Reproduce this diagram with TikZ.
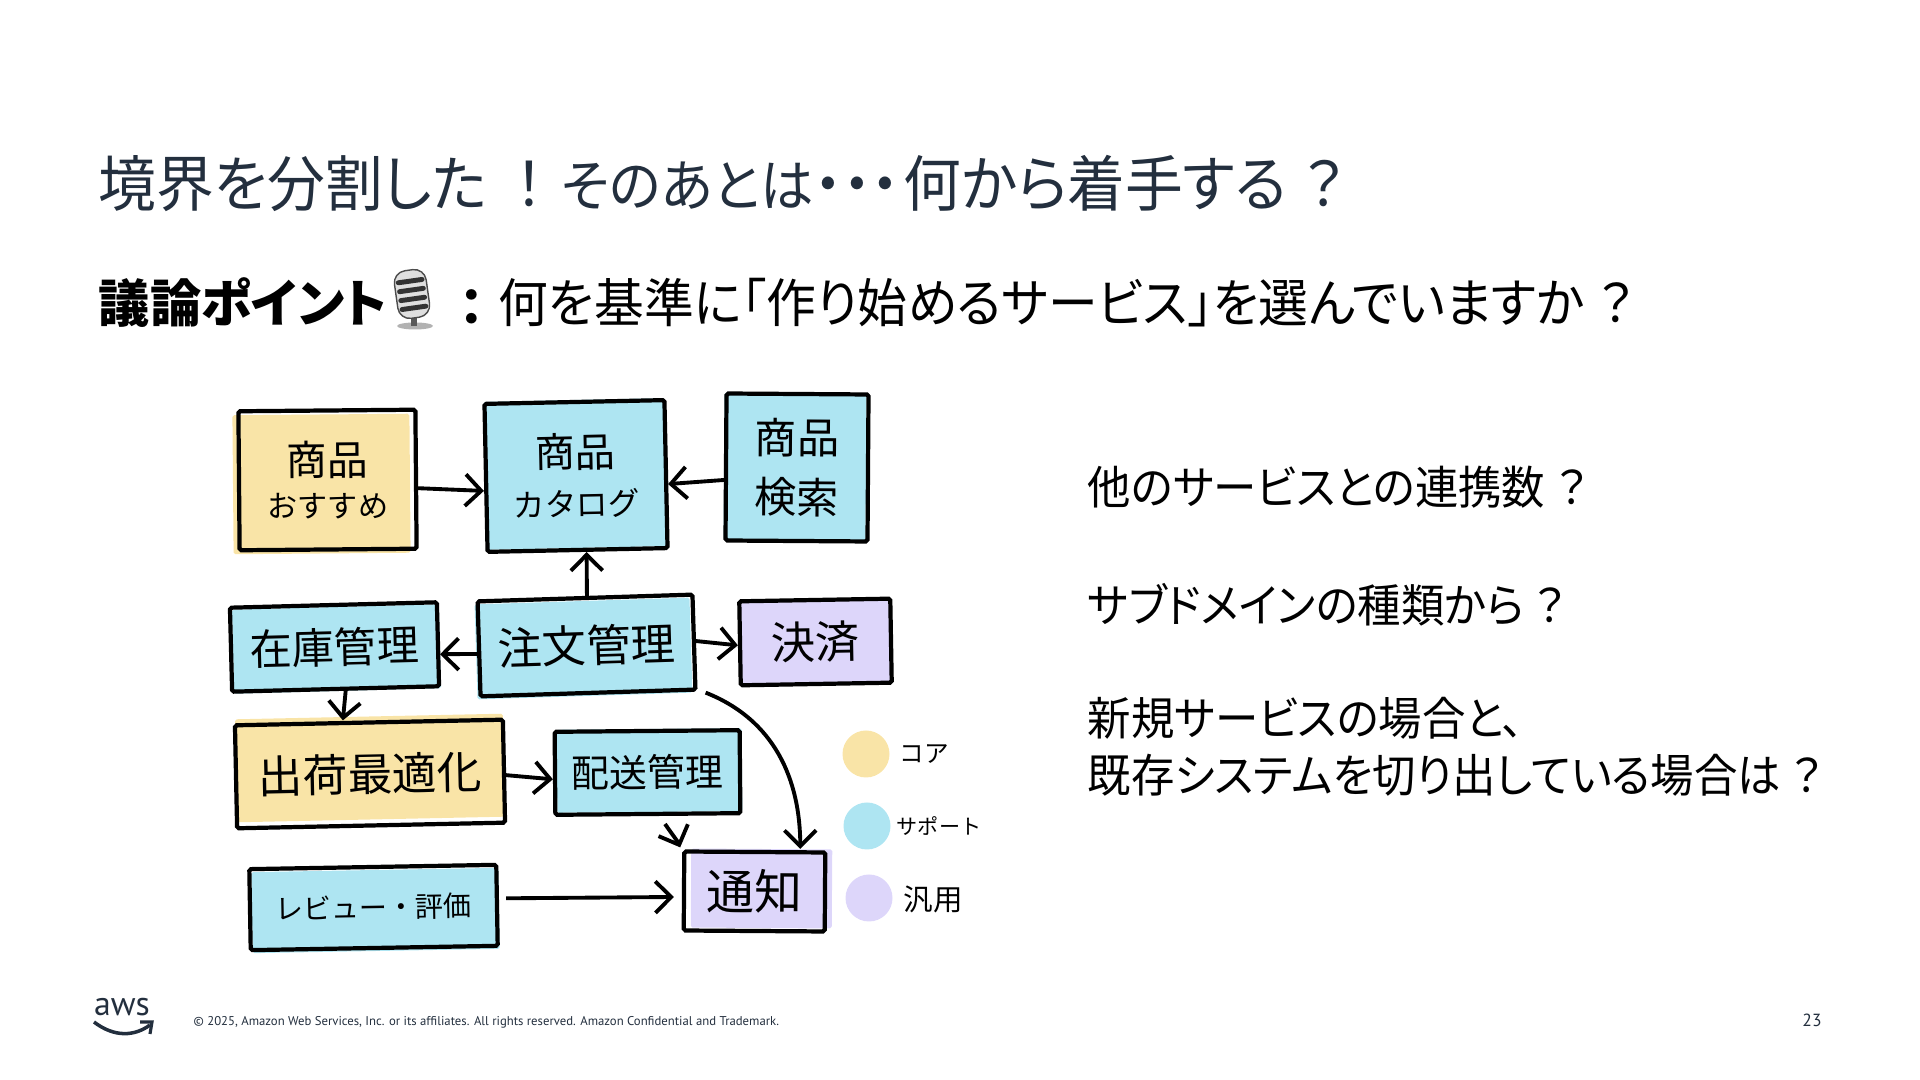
\documentclass[tikz,border=0pt]{standalone}
\usepackage{fontspec}
\usepackage{xcolor}
\usetikzlibrary{arrows.meta}
\setmainfont{Noto Sans CJK JP}
\newfontfamily\headfont[FakeStretch=0.95,RawFeature={+palt}]{Noto Sans CJK JP}
\newfontfamily\pointfont[RawFeature={+palt}]{Noto Sans CJK JP}
\newfontfamily\footfont{PT Sans}
\newcommand{\handsize}[1]{\fontsize{#1}{\fpeval{#1*1.3}}\selectfont}
\definecolor{coreyellow}{RGB}{249,228,167}
\definecolor{supportblue}{RGB}{174,229,242}
\definecolor{genericpurple}{RGB}{221,214,250}
\definecolor{slateink}{RGB}{35,47,62}

\begin{document}
\begin{tikzpicture}[
    handbox/.style={rectangle, draw=black, line width=1.2pt, align=center, inner sep=0pt, rounded corners=0.5pt},
    wash/.style n args={3}{preaction={fill=#1, transform canvas={shift={(#2,#3)}}}},
    arrow/.style={->, >={Straight Barb[length=4.5pt,width=9pt]}, line width=1.1pt, black},
    legenddot/.style={circle, minimum size=0.47cm, inner sep=0pt},
    headline/.style={anchor=west, inner sep=0pt, font=\headfont}
]
\useasboundingbox (0,0) rectangle (19.2,10.8);

% Title and question
\node[headline, slateink] (title) at (0.98,8.96) {\fontsize{17.3}{20}\selectfont 境界を分割した\hspace{8pt}！\hspace{5pt}{\fontsize{16}{20}\selectfont そのあとは}・・・\hspace{1pt}何から着手する\hspace{4.5pt}？};
\node[headline, font=\pointfont] (point) at (0.98,7.77) {\fontsize{14.6}{18}\selectfont\bfseries 議論ポイント};
\node[headline, font=\pointfont] (colon) at (4.58,7.72) {\fontsize{14.4}{18}\selectfont\bfseries ：};
\node[headline] (question) at (4.98,7.77) {\fontsize{14.9}{18}\selectfont 何を基準に「作り始めるサービス」を選んでいますか\hspace{4pt}？};

% Microphone
\fill[gray!60] (4.15,7.54) ellipse (0.18 and 0.035);
\draw[gray!70!black, line width=1.5pt] (4.14,7.54) -- (4.14,7.66);
\begin{scope}[rotate around={8:(4.12,7.86)}]
\fill[gray!25, draw=gray!60!black, line width=0.4pt, rounded corners=1.2mm] (3.96,7.62) rectangle (4.28,8.10);
\foreach \y in {7.72,7.81,7.90,7.99}
    \draw[black!80, line width=1.4pt, line cap=round] (4.00,\y) -- (4.24,\y);
\end{scope}

% Top row
\node[handbox, wash={coreyellow}{-0.06}{-0.04}, rotate=0.5, minimum width=1.77cm, minimum height=1.39cm] (recommend) at (3.275,6.0) {\handsize{11.6}商品\\\handsize{8.6}おすすめ};
\node[handbox, wash={supportblue}{-0.01}{0.02}, rotate=1.2, minimum width=1.80cm, minimum height=1.48cm] (catalog) at (5.76,6.04) {\handsize{11.4}商品\\[2pt]\handsize{9}カタログ};
\node[handbox, wash={supportblue}{-0.02}{0.01}, rotate=-0.4, minimum width=1.42cm, minimum height=1.47cm] (search) at (7.97,6.125) {\handsize{12}商品\\[5pt]\handsize{12}検索};

% Middle row
\node[handbox, wash={supportblue}{0.02}{-0.02}, rotate=1.5, minimum width=2.07cm, minimum height=0.84cm] (stock) at (3.345,4.33) {\handsize{12}在庫管理};
\node[handbox, wash={supportblue}{-0.03}{-0.03}, rotate=1.8, minimum width=2.15cm, minimum height=0.95cm] (order) at (5.865,4.345) {\handsize{12.6}注文管理};
\node[handbox, wash={genericpurple}{0.01}{0.01}, rotate=1, minimum width=1.51cm, minimum height=0.84cm] (payment) at (8.155,4.38) {\handsize{12.6}決済};

% Lower rows
\node[handbox, wash={coreyellow}{0}{0.06}, rotate=1.2, minimum width=2.68cm, minimum height=1.03cm] (shipping) at (3.70,3.06) {\raisebox{-2.5pt}{\handsize{12.7}出荷最適化}};
\node[handbox, wash={supportblue}{0.02}{0.02}, rotate=0.5, minimum width=1.85cm, minimum height=0.83cm] (delivery) at (6.475,3.075) {\handsize{10.8}配送管理};
\node[handbox, wash={supportblue}{0.02}{-0.03}, rotate=1, minimum width=2.47cm, minimum height=0.81cm] (review) at (3.735,1.725) {\handsize{8}レビュー・評価};
\node[handbox, wash={genericpurple}{0.07}{0.03}, rotate=-0.4, minimum width=1.41cm, minimum height=0.79cm] (notice) at (7.545,1.885) {\handsize{13.6}通知};

% Connectors
\coordinate (deliverytail) at (6.65,2.56);
\draw[arrow] ([yshift=-0.09cm]recommend.east) -- ([yshift=-0.13cm]catalog.west);
\draw[arrow] ([yshift=-0.13cm]search.west) -- ([yshift=-0.10cm]catalog.east);
\draw[arrow] ([xshift=0.02cm]order.north) -- ([xshift=0.09cm]catalog.south);
\draw[arrow] ([yshift=-0.05cm]order.west) -- ([yshift=-0.10cm]stock.east);
\draw[arrow] ([yshift=0.01cm]order.east) -- ([yshift=-0.02cm]payment.west);
\draw[arrow] ([xshift=0.10cm]stock.south) -- ([xshift=-0.26cm]shipping.north);
\draw[arrow] ([yshift=-0.04cm]shipping.east) -- ([yshift=-0.06cm]delivery.west);
\draw[arrow] (deliverytail) .. controls (6.72,2.46) and (6.78,2.38) .. ([xshift=-0.02cm,yshift=0.02cm]notice.north west);
\draw[arrow] ([xshift=0.08cm,yshift=-0.01cm]order.south east) .. controls (7.75,3.60) and (8.00,3.00) .. ([xshift=0.455cm,yshift=0.01cm]notice.north);
\draw[arrow] ([xshift=0.07cm,yshift=0.07cm]review.east) -- ([xshift=-0.08cm,yshift=-0.06cm]notice.west);

% Legend
\node[legenddot, fill=coreyellow] (legendcore) at (8.66,3.26) {};
\node[legenddot, fill=supportblue] (legendsupport) at (8.67,2.54) {};
\node[legenddot, fill=genericpurple] (legendgeneric) at (8.69,1.82) {};
\node[inner sep=0pt] (labelcore) at (9.24,3.26) {\handsize{7}コア};
\node[inner sep=0pt] (labelsupport) at (9.39,2.54) {\handsize{6}サポート};
\node[inner sep=0pt] (labelgeneric) at (9.33,1.81) {\handsize{8.4}汎用};

% Right column
\node[headline] (textone) at (10.87,5.93) {\fontsize{13}{16}\selectfont 他のサービスとの連携数\hspace{3pt}？};
\node[headline] (texttwo) at (10.87,4.75) {\fontsize{13}{16}\selectfont サブドメインの種類から\hspace{3pt}？};
\node[headline] (textthree) at (10.87,3.62) {\fontsize{13}{16}\selectfont 新規サービスの場合と、};
\node[headline] (textfour) at (10.87,3.05) {\fontsize{13}{16}\selectfont 既存システムを切り出している場合は\hspace{3pt}？};

% Footer
\node[inner sep=0pt, slateink, font=\footfont] (awstext) at (1.22,0.73) {\fontsize{9.6}{10}\selectfont aws};
\draw[slateink, line width=1pt] (0.94,0.58) .. controls (1.15,0.42) and (1.35,0.44) .. (1.50,0.55);
\draw[slateink, line width=0.9pt] (1.40,0.58) -- (1.52,0.58) -- (1.50,0.46);
\node[anchor=west, inner sep=0pt, font=\footfont, slateink] (copyright) at (1.93,0.58) {\fontsize{3.62}{4}\selectfont © 2025, Amazon Web Services, Inc. or its affiliates. All rights reserved. Amazon Confidential and Trademark.};
\node[inner sep=0pt, font=\footfont, slateink] (pagenumber) at (18.12,0.60) {\fontsize{5}{6}\selectfont 23};

\end{tikzpicture}
\end{document}
